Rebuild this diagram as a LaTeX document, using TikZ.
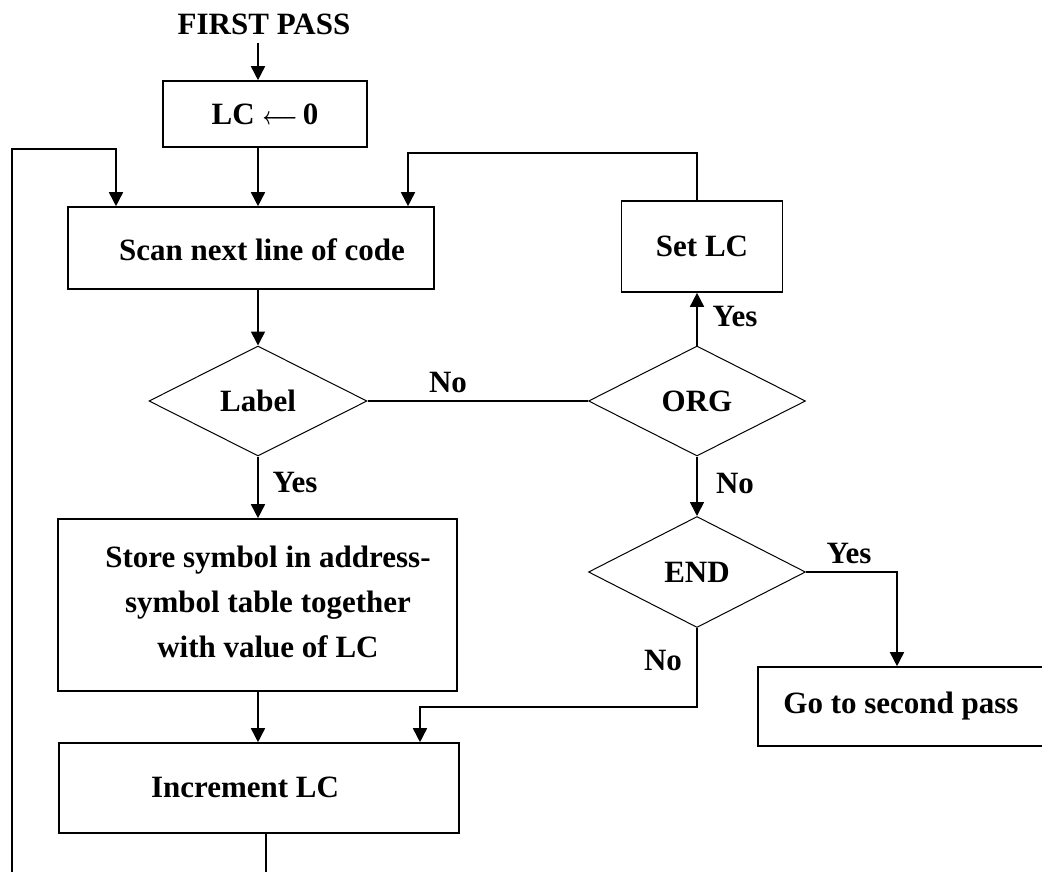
\documentclass[tikz,border=0pt]{standalone}
\usepackage{fontspec}
\usepackage{graphicx}
\setmainfont{Liberation Serif}
\usetikzlibrary{arrows.meta,shapes.geometric}
\begin{document}
\begin{tikzpicture}[x=1pt,y=-1pt,
  every node/.style={font=\fontsize{31}{45}\selectfont\bfseries},
  box/.style={draw, line width=1.6pt, inner sep=0pt},
  dec/.style={draw, diamond, line width=1pt, inner sep=0pt},
  arr/.style={line width=1.6pt, -{Triangle[width=14pt,length=14pt]}},
  ln/.style={line width=1.6pt}]
\useasboundingbox (0,0) rectangle (1042,871);
\fill[white] (0,0) rectangle (1042,871);
\clip (0,0) rectangle (1042,871);

% nodes
\node (fp) at (264,24) {FIRST PASS};
\node[box, minimum width=204pt, minimum height=66pt] (lc) at (265,114) {LC \scalebox{0.76}[1]{\boldmath$\longleftarrow$}\,0};
\node[box, minimum width=366pt, minimum height=82pt] (scan) at (251,248) {};
\node (scant) at (262,250) {Scan next line of code};
\node[box, minimum width=161pt, minimum height=91pt] (setlc) at (702,246.5) {Set LC};
\node[dec, minimum width=218pt, minimum height=110pt] (lab) at (258,401) {Label};
\node[dec, minimum width=217pt, minimum height=110pt] (org) at (697,401) {ORG};
\node[dec, minimum width=217pt, minimum height=111pt] (end) at (697,572) {END};
\node[box, minimum width=399pt, minimum height=172pt] (store) at (257.5,605) {};
\node[align=center] (storet) at (268,602) {Store symbol in address-\\symbol table together\\with value of LC};
\node[box, minimum width=400pt, minimum height=90pt] (inc) at (259,788) {};
\node (inct) at (245,787) {Increment LC};
\node[box, minimum width=286pt, minimum height=79pt] (go) at (901,706.5) {Go to second pass};

% helper coordinates
\coordinate (cA) at (258,0);
\coordinate (cB) at (697,0);
\coordinate (lb) at (12,875);
\coordinate (lt) at (12,149);
\coordinate (lx) at (116,149);
\coordinate (rx) at (408,153);
\coordinate (gx) at (897,0);
\coordinate (nx) at (420,707);
\coordinate (io) at (266,875);

% connectors
\draw[arr, shorten <=5pt] (fp.south -| cA) -- (lc.north -| cA);
\draw[arr] (lc.south -| cA) -- (scan.north -| cA);
\draw[arr] (scan.south -| cA) -- (lab.north);
\draw[arr] (lab.south) -- (store.north -| lab.south);
\draw[arr] (store.south -| cA) -- (inc.north -| cA);
\draw[arr] (lb) -- (lt) -- (lx) -- (lx |- scan.north);
\draw[arr] (setlc.north -| cB) |- (rx) -- (rx |- scan.north);
\draw[arr] (org.north) -- (setlc.south -| org.north);
\draw[ln] (lab.east) -- (org.west);
\draw[arr] (org.south) -- (end.north);
\draw[arr] (end.east) -| (gx |- go.north);
\draw[arr] (end.south) |- (nx) -- (nx |- inc.north);
\draw[ln] (inc.south -| io) -- (io);

% labels
\node[anchor=west] (y1) at (709,316) {Yes};
\node (n1) at (448,382) {No};
\node[anchor=west] (y2) at (269,482) {Yes};
\node (n2) at (735,483) {No};
\node (y3) at (849,553) {Yes};
\node (n3) at (663,660) {No};
\end{tikzpicture}
\end{document}
